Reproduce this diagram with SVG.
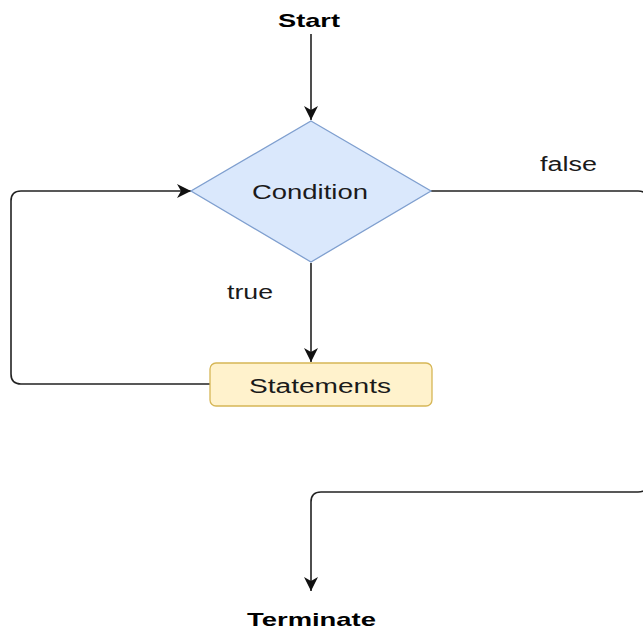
<svg xmlns="http://www.w3.org/2000/svg" width="643" height="630" viewBox="0 0 643 630">
  <defs>
    <marker id="arrow" viewBox="0 0 14 14" refX="14" refY="7" markerWidth="14" markerHeight="14" markerUnits="userSpaceOnUse" orient="auto">
      <path d="M0,0 L14,7 L0,14 L4,7 Z" fill="#111"/>
    </marker>
    <style>
      .edge { fill: none; stroke: #222; stroke-width: 1.6; }
      .lbl { font-family: "Liberation Sans", Arial, sans-serif; font-size: 20px; fill: #1a1a1a; text-anchor: start; }
      .bold { font-weight: bold; font-size: 19px; fill: #000; }
    </style>
  </defs>

  <rect width="643" height="630" fill="#ffffff"/>

  <!-- connectors -->
  <g id="connectors">
    <!-- Start to Condition -->
    <path class="edge" d="M311,34 L311,120" marker-end="url(#arrow)"/>
    <!-- Condition to Statements (true) -->
    <path class="edge" d="M311,263 L311,362" marker-end="url(#arrow)"/>
    <!-- Statements back to Condition -->
    <path class="edge" d="M210,384 L21,384 Q11,384 11,374 L11,201 Q11,191 21,191 L191,191" marker-end="url(#arrow)"/>
    <!-- Condition to Terminate (false) -->
    <path class="edge" d="M431,191 L638,191 Q648,191 648,201 L648,482 Q648,492 638,492 L321,492 Q311,492 311,502 L311,591" marker-end="url(#arrow)"/>
    <text class="lbl" x="540" y="171" textLength="57" lengthAdjust="spacingAndGlyphs">false</text>
    <text class="lbl" x="227" y="299" textLength="46" lengthAdjust="spacingAndGlyphs">true</text>
  </g>

  <g id="start">
    <text class="lbl bold" x="278" y="27" textLength="62" lengthAdjust="spacingAndGlyphs">Start</text>
  </g>

  <g id="condition">
    <polygon points="311,121 431,191 311,262 191,191" fill="#dae8fc" stroke="#7f9fcf" stroke-width="1.3"/>
    <text class="lbl" x="252" y="199" textLength="116" lengthAdjust="spacingAndGlyphs">Condition</text>
  </g>

  <g id="statements">
    <rect x="210" y="363" width="222" height="43" rx="6" fill="#fff2cc" stroke="#d6b656" stroke-width="1.3"/>
    <text class="lbl" x="249" y="393" textLength="142" lengthAdjust="spacingAndGlyphs">Statements</text>
  </g>

  <g id="terminate">
    <text class="lbl bold" x="247" y="626" textLength="129" lengthAdjust="spacingAndGlyphs">Terminate</text>
  </g>
</svg>
